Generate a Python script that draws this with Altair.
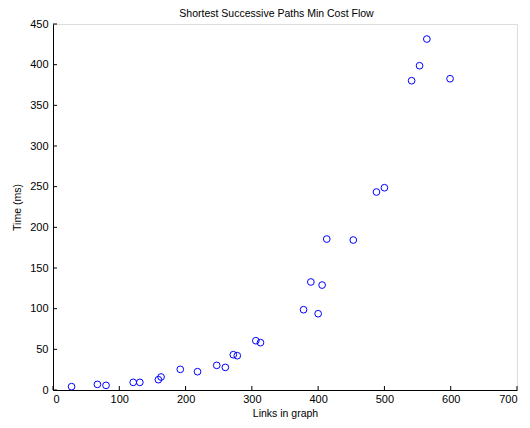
import altair as alt
import pandas as pd

links = [28, 67, 80, 121, 131, 159, 163, 192, 218, 247, 260, 272, 278, 306, 313,
         378, 389, 400, 406, 413, 453, 488, 500, 564, 553, 541, 599]
time_ms = [4.1, 6.9, 5.7, 9.4, 9.4, 12.7, 16, 25.4, 22.5, 30.3, 27.8, 43.4, 42.2, 60.6, 58.2,
           98.7, 132.8, 93.8, 129, 185.6, 184.4, 243.4, 248.7, 431.5, 398.7, 380.3, 382.7]
x_ticks = [0, 100, 200, 300, 400, 500, 600, 700]
y_ticks = [0, 50, 100, 150, 200, 250, 300, 350, 400, 450]

df = pd.DataFrame({"links": links, "time": time_ms})
xt = pd.DataFrame({"v": x_ticks})
yt = pd.DataFrame({"v": y_ticks})

W, H = 464, 366
FONT = "Liberation Sans"

xscale = alt.Scale(domain=[0, 700], nice=False, zero=False)
yscale = alt.Scale(domain=[0, 450], nice=False, zero=False)

points = alt.Chart(df).mark_point(
    shape="circle", filled=False, color="#0000FF", size=45, strokeWidth=1, opacity=1
).encode(
    x=alt.X("links:Q", scale=xscale, title="Links in graph",
            axis=alt.Axis(values=x_ticks, ticks=False, grid=False, domainColor="black",
                          labelPadding=3, labelFontSize=11, labelColor="black",
                          titleFontSize=10.5, titleFontWeight="normal", titlePadding=4,
                          titleColor="black", labelFont=FONT, titleFont=FONT)),
    y=alt.Y("time:Q", scale=yscale, title="Time (ms)",
            axis=alt.Axis(values=y_ticks, ticks=False, grid=False, domainColor="black",
                          labelPadding=5, labelFontSize=11, labelColor="black",
                          titleFontSize=10.5, titleFontWeight="normal", titlePadding=7,
                          titleColor="black", labelFont=FONT, titleFont=FONT)),
)

xtick_rules = alt.Chart(xt).mark_rule(color="black", strokeWidth=1).encode(
    x=alt.X("v:Q", scale=xscale),
    y=alt.value(H), y2=alt.value(H - 4),
)
ytick_rules = alt.Chart(yt).mark_rule(color="black", strokeWidth=1).encode(
    y=alt.Y("v:Q", scale=yscale),
    x=alt.value(0), x2=alt.value(4),
)

chart = alt.layer(xtick_rules, ytick_rules, points).properties(
    width=W, height=H,
    title=alt.TitleParams("Shortest Successive Paths Min Cost Flow", fontSize=10.5,
                          fontWeight="normal", font=FONT, color="black",
                          dx=-8.5, dy=5.5, offset=4),
    autosize=alt.AutoSizeParams(type="none"),
    padding={"left": 45, "top": 16, "right": 5, "bottom": 30},
).configure_view(stroke=None).configure(background="white")

chart.save("out.html", embed_options={"renderer": "svg", "actions": False})
